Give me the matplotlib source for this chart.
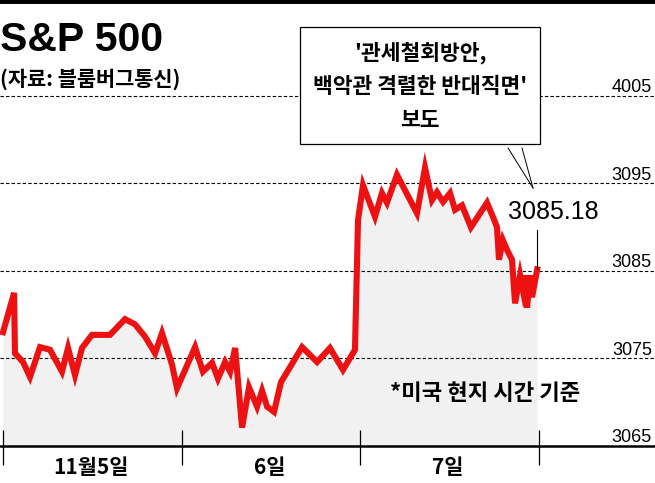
import matplotlib.pyplot as plt
import numpy as np

# Data: S&P 500 intraday, Nov 5-7 (x = trading-session position, 1 unit per day)
t = [0.000, 0.062, 0.067, 0.112, 0.151, 0.207, 0.263, 0.330, 0.364, 0.403,
     0.442, 0.498, 0.599, 0.683, 0.739, 0.795, 0.851, 0.890, 0.946, 0.974,
     1.075, 1.119, 1.170, 1.203, 1.243, 1.271, 1.299, 1.315, 1.338, 1.377,
     1.422, 1.450, 1.478, 1.517, 1.556, 1.674, 1.758, 1.830, 1.903, 1.970,
     1.987, 2.015, 2.082, 2.121, 2.149, 2.205, 2.317, 2.362, 2.401, 2.429,
     2.463, 2.502, 2.530, 2.569, 2.619, 2.709, 2.742, 2.765, 2.776, 2.798,
     2.821, 2.849, 2.866, 2.894, 2.910, 2.922, 2.933, 2.950, 2.961, 2.990]
price = [3078.0, 3082.5, 3075.6, 3074.6, 3072.9, 3076.3, 3076.0, 3073.5, 3076.2, 3073.1,
         3076.2, 3077.7, 3077.7, 3079.5, 3078.9, 3077.5, 3075.6, 3077.9, 3074.3, 3071.6,
         3076.3, 3073.5, 3074.5, 3072.7, 3074.6, 3073.5, 3076.2, 3072.5, 3067.1, 3071.7,
         3069.5, 3071.3, 3069.5, 3068.9, 3072.3, 3076.3, 3074.6, 3076.2, 3073.7, 3076.0,
         3090.8, 3094.8, 3091.2, 3093.9, 3092.8, 3096.0, 3091.6, 3096.8, 3093.1, 3094.0,
         3092.9, 3093.9, 3092.0, 3092.5, 3090.0, 3092.8, 3091.2, 3090.0, 3086.3, 3088.5,
         3087.4, 3086.3, 3081.3, 3084.5, 3082.8, 3084.5, 3080.8, 3084.5, 3082.0, 3085.18]
grid_vals = [3065, 3075, 3085, 3095, 3105]
grid_labels = ['3065', '3075', '3085', '3095', '4005']
day_labels = ['11월5일', '6일', '7일']
last_label = '3085.18'

KR = ['Noto Sans CJK KR', 'DejaVu Sans']
NUM = ['Liberation Sans', 'DejaVu Sans']

fig = plt.figure(figsize=(6.55, 4.83), dpi=100)
ax = fig.add_axes([0, 0, 1, 1])
ax.set_xlim(-0.0168, 3.6493)
ax.set_ylim(3060.77, 3115.97)
ax.axis('off')


def fpx(x, y):
    # pixel position -> figure fraction
    return x / 655, 1 - y / 483


# top rule
ax.axhline(3115.97, color='black', lw=5)

# gridlines and right-side labels
for v, lab in zip(grid_vals, grid_labels):
    if v != grid_vals[0]:
        ax.axhline(v, color='black', lw=0.8, ls=(0, (3, 2)), zorder=1)
    ax.text(3.632, v + 0.45, lab, ha='right', va='baseline',
            fontsize=13, family=NUM, zorder=3)

# fill + line
ax.fill_between(t, price, grid_vals[0], color='#f1f1f1', lw=0, zorder=0)
ax.plot(t, price, color='#ee1111', lw=4.4, solid_joinstyle='miter', zorder=4)

# x axis
ax.axhline(grid_vals[0], color='black', lw=1.8, zorder=5)
ax.vlines([0, 1, 2, 3], 3062.83, 3066.83, color='black', lw=0.9, zorder=5)
for i, lab in enumerate(day_labels):
    ax.text(i + 0.49, 3062.5, lab, ha='center', va='center',
            fontsize=15, family=KR, fontweight='bold')

# last value label + leader
ax.text(3.078, 3091.7, last_label, ha='center', va='center',
        fontsize=18, family=NUM)
ax.plot([t[-1], t[-1]], [price[-1], 3089.7], color='black', lw=0.8, zorder=5)

# callout box
fig.text(*fpx(420, 86), "'관세철회방안,\n백악관 격렬한 반대직면'\n보도",
         ha='center', va='center', fontsize=15.5, family=KR, fontweight='bold',
         linespacing=1.75,
         bbox=dict(boxstyle='square,pad=0.62', fc='white', ec='black', lw=0.9))
fig.lines.append(plt.Line2D([508 / 655, 533 / 655], [1 - 148 / 483, 1 - 188 / 483],
                            transform=fig.transFigure, color='black', lw=0.7))
fig.lines.append(plt.Line2D([522 / 655, 533 / 655], [1 - 148 / 483, 1 - 188 / 483],
                            transform=fig.transFigure, color='black', lw=0.7))

# titles
fig.text(*fpx(0, 40), 'S&P 500', ha='left', va='center', fontsize=29.5,
         family=NUM, fontweight='bold')
fig.text(*fpx(0, 79), '(자료: 블룸버그통신)', ha='left', va='center',
         fontsize=15, family=KR, fontweight='bold')
fig.text(*fpx(485, 394), '*미국 현지 시간 기준', ha='center', va='center',
         fontsize=16, family=KR, fontweight='bold')

plt.savefig('out.png', dpi=100)
